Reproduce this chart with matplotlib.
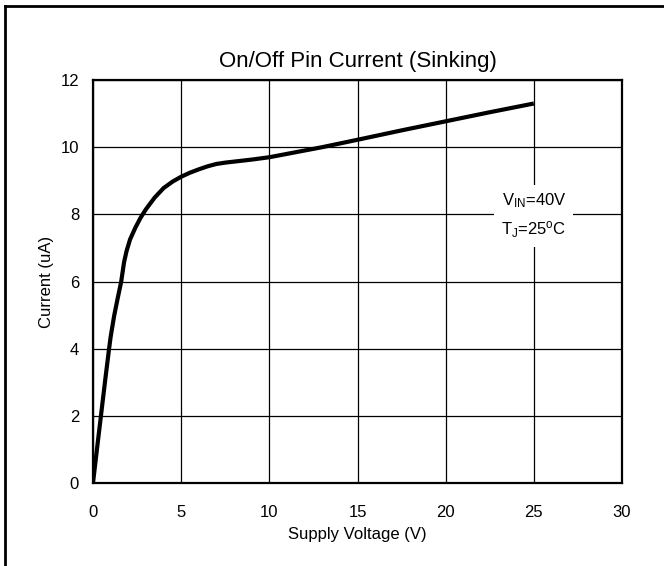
import matplotlib
matplotlib.use("Agg")
import matplotlib.pyplot as plt
from matplotlib.lines import Line2D

plt.rcParams['font.family'] = ['Liberation Sans', 'DejaVu Sans']

# curve
volts = [0, 0.2, 0.45, 0.7, 0.9, 1.0, 1.2, 1.4, 1.6, 1.76, 1.9, 2.1, 2.4, 2.7, 3.0, 3.5, 4.0, 4.5,
         5.0, 5.5, 6.0, 6.5, 7.0, 7.5, 8.0, 9.0, 10.0, 11.0, 12.0, 13.0, 15.0, 17.5, 20.0, 22.5, 25.0]
current = [0, 0.9, 2.0, 3.1, 3.95, 4.35, 4.98, 5.5, 6.0, 6.57, 6.9, 7.25, 7.6, 7.9, 8.15, 8.5, 8.78, 8.97,
           9.12, 9.24, 9.34, 9.43, 9.5, 9.54, 9.57, 9.63, 9.7, 9.8, 9.9, 10.0, 10.22, 10.5, 10.77, 11.04, 11.3]

xticks = [0, 5, 10, 15, 20, 25, 30]
yticks = [0, 2, 4, 6, 8, 10, 12]

fig = plt.figure(figsize=(6.64, 5.66), dpi=100)
ax = fig.add_axes([93/664, 1 - 483/566, (622 - 93)/664, (483 - 80)/566])

ax.plot(volts, current, color='black', lw=3, solid_capstyle='butt',
        solid_joinstyle='round', zorder=3)
ax.set_xlim(0, 30)
ax.set_ylim(0, 12)
ax.set_xticks(xticks)
ax.set_yticks(yticks)
ax.grid(True, color='black', lw=0.9)
ax.tick_params(length=0, labelsize=12)
ax.tick_params(axis='x', pad=16)
ax.tick_params(axis='y', pad=10)
for s in ax.spines.values():
    s.set_linewidth(1.6)

ax.set_title('On/Off Pin Current (Sinking)', fontsize=16, pad=9)
ax.set_xlabel('Supply Voltage (V)', fontsize=12, labelpad=5)
ax.set_ylabel('Current (uA)', fontsize=12, labelpad=5)

ax.text(25.0, 7.96, '$\\mathregular{V_{IN}}$=40V\n$\\mathregular{T_J}$=25$\\mathregular{^o}$C',
        ha='center', va='center', fontsize=12, linespacing=1.6,
        bbox=dict(facecolor='white', edgecolor='none', pad=5), zorder=4)

# frame lines at left and top of the figure
fig.add_artist(Line2D([5/664, 5/664], [0, 1 - 6/566], color='black', lw=2, transform=fig.transFigure))
fig.add_artist(Line2D([5/664, 1], [1 - 6/566, 1 - 6/566], color='black', lw=2, transform=fig.transFigure))

fig.savefig('out.png', dpi=100)
